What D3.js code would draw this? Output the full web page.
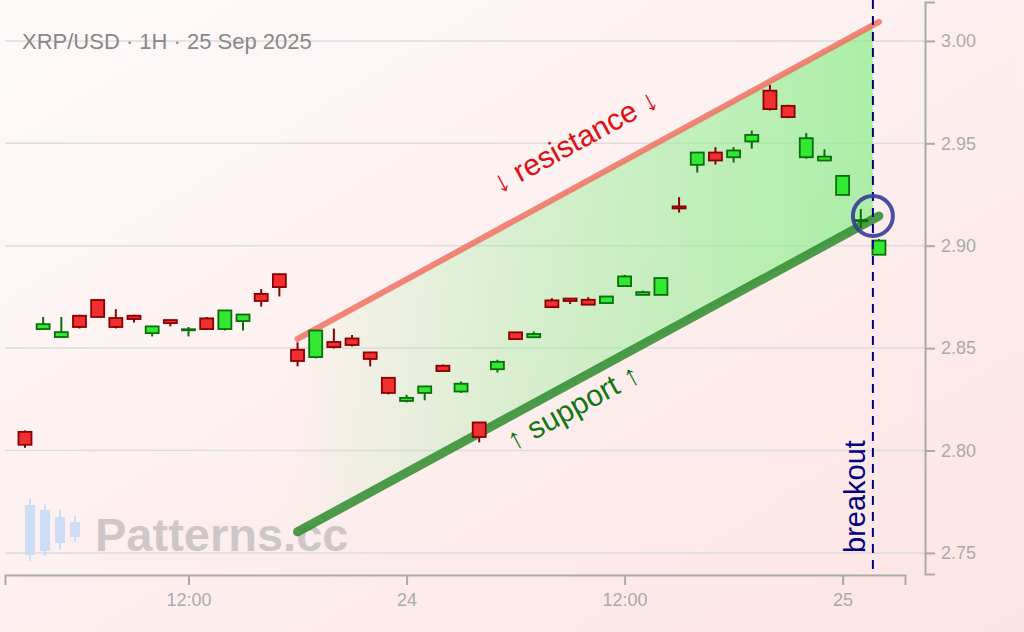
<!DOCTYPE html>
<html>
<head>
<meta charset="utf-8">
<script src="https://cdn.jsdelivr.net/npm/d3@7.9.0/dist/d3.min.js"></script>
<style>
  body { margin: 0; }
  svg { display: block; font-family: "Liberation Sans", Arial, sans-serif; }
</style>
</head>
<body>
<svg id="chart" width="1024" height="632"></svg>
<script>
// hourly candles from 23 Sep 03:00
const start = new Date(2025, 8, 23, 3);
const opens  = [2.8091,2.8593,2.8554,2.8658,2.8735,2.8647,2.8658,2.8573,2.8637,2.8590,2.8645,2.8593,2.8632,2.8765,2.8861,2.8492,2.8456,2.8530,2.8547,2.8479,2.8355,2.8242,2.8281,2.8414,2.8288,2.8137,2.8397,2.8577,2.8553,2.8733,2.8742,2.8736,2.8720,2.8803,2.8760,2.8760,2.9192,2.9395,2.9455,2.9432,2.9509,2.9757,2.9683,2.9432,2.9416,2.9248,2.9120,2.8956];
const closes = [2.8028,2.8617,2.8578,2.8603,2.8652,2.8603,2.8642,2.8606,2.8622,2.8592,2.8593,2.8684,2.8664,2.8730,2.8798,2.8437,2.8586,2.8505,2.8515,2.8447,2.8281,2.8257,2.8313,2.8388,2.8326,2.8066,2.8433,2.8544,2.8569,2.8700,2.8730,2.8712,2.8752,2.8850,2.8773,2.8842,2.9182,2.9455,2.9416,2.9465,2.9541,2.9667,2.9628,2.9525,2.9435,2.9341,2.9125,2.9025];
const highs  = [2.8098,2.8652,2.8652,2.8663,2.8740,2.8690,2.8663,2.8606,2.8637,2.8603,2.8652,2.8684,2.8664,2.8788,2.8864,2.8528,2.8586,2.8595,2.8564,2.8479,2.8359,2.8272,2.8313,2.8420,2.8337,2.8137,2.8443,2.8577,2.8581,2.8744,2.8742,2.8749,2.8752,2.8858,2.8781,2.8845,2.9237,2.9455,2.9481,2.9481,2.9562,2.9785,2.9688,2.9550,2.9471,2.9346,2.9179,2.9032];
const lows   = [2.8013,2.8593,2.8554,2.8596,2.8652,2.8596,2.8625,2.8557,2.8606,2.8557,2.8593,2.8586,2.8586,2.8703,2.8752,2.8411,2.8450,2.8498,2.8508,2.8411,2.8274,2.8235,2.8245,2.8388,2.8281,2.8040,2.8381,2.8544,2.8549,2.8700,2.8715,2.8712,2.8720,2.8803,2.8760,2.8760,2.9162,2.9357,2.9396,2.9406,2.9474,2.9660,2.9623,2.9425,2.9416,2.9248,2.9086,2.8956];

const resistance = [[new Date(2025, 8, 23, 18), 2.8545], [new Date(2025, 8, 25, 2), 3.0093]];
const support    = [[new Date(2025, 8, 23, 18), 2.7603], [new Date(2025, 8, 25, 2), 2.9145]];
const breakoutTime = new Date(2025, 8, 25, 1, 40);

const priceTicks = [2.75, 2.80, 2.85, 2.90, 2.95, 3.00];
const timeTicks = [new Date(2025, 8, 23, 12), new Date(2025, 8, 24), new Date(2025, 8, 24, 12), new Date(2025, 8, 25)];
const timeLabels = ['12:00', '24', '12:00', '25'];

const hour = i => new Date(start.getTime() + i * 3600e3);
const candles = opens.map((o, i) => ({ t: hour(i), o, c: closes[i], h: highs[i], l: lows[i] }));

const svg = d3.select('#chart');
const x = d3.scaleTime().domain([new Date(2025, 8, 23, 1, 54), new Date(2025, 8, 25, 3, 26)]).range([5, 905]);
const y = d3.scaleLinear().domain([2.7397, 3.0190]).range([574, 2]);

const defs = svg.append('defs');
let bg = defs.append('linearGradient').attr('id', 'bg').attr('x1', 0).attr('y1', 0).attr('x2', 1).attr('y2', 1);
bg.append('stop').attr('offset', 0).attr('stop-color', '#fefafa');
bg.append('stop').attr('offset', 1).attr('stop-color', '#fde4e4');
let fillG = defs.append('linearGradient').attr('id', 'chan').attr('x1', 0).attr('x2', 1).attr('y1', 0).attr('y2', 0);
fillG.append('stop').attr('offset', 0).attr('stop-color', '#90ee90').attr('stop-opacity', 0.0);
fillG.append('stop').attr('offset', 0.4).attr('stop-color', '#90ee90').attr('stop-opacity', 0.35);
fillG.append('stop').attr('offset', 1).attr('stop-color', '#90ee90').attr('stop-opacity', 0.75);

svg.append('rect').attr('width', 1024).attr('height', 632).attr('fill', 'url(#bg)');

// grid
svg.append('g').selectAll('line').data(priceTicks).join('line')
  .attr('x1', 5).attr('x2', 925).attr('y1', d => y(d)).attr('y2', d => y(d))
  .attr('stroke', '#ddd').attr('stroke-width', 1.5);

// watermark
const wm = svg.append('g').attr('opacity', 0.9);
[[30, 498, 561, 505, 555], [45, 504, 556, 510, 551], [60, 510, 550, 517, 543], [75, 516, 542, 522, 537]].forEach(([cx, hi, lo, bt, bb]) => {
  wm.append('line').attr('x1', cx).attr('x2', cx).attr('y1', hi).attr('y2', lo).attr('stroke', '#c8dcf6').attr('stroke-width', 2);
  wm.append('rect').attr('x', cx - 5).attr('y', bt).attr('width', 10).attr('height', bb - bt).attr('fill', '#c8dcf6');
});
wm.append('text').attr('x', 95).attr('y', 551).attr('font-size', 47).attr('font-weight', 'bold')
  .attr('fill', '#cbc3c3').text('Patterns.cc');

// channel fill
const r0 = resistance[0], r1 = resistance[1], s0 = support[0], s1 = support[1];
const lerp = (a, b, t) => a[1] + (b[1] - a[1]) * (t - a[0]) / (b[0] - a[0]);
const leftT = new Date(2025, 8, 23, 17, 33);
svg.append('path')
  .attr('d', d3.line()([[x(leftT), y(lerp(r0, r1, leftT))], [x(breakoutTime), y(lerp(r0, r1, breakoutTime))],
    [x(breakoutTime), y(lerp(s0, s1, breakoutTime))], [x(leftT), y(lerp(s0, s1, leftT))]]))
  .attr('fill', 'url(#chan)');

// lines
const ln = d3.line().x(d => x(d[0])).y(d => y(d[1]));
svg.append('path').attr('d', ln(resistance)).attr('stroke', '#f06a5a').attr('stroke-opacity', 0.8)
  .attr('stroke-width', 6).attr('stroke-linecap', 'round').attr('fill', 'none');
svg.append('path').attr('d', ln(support)).attr('stroke', '#2e8b2e').attr('stroke-opacity', 0.85)
  .attr('stroke-width', 9).attr('stroke-linecap', 'round').attr('fill', 'none');

// candles
const cw = 13;
const cg = svg.append('g').selectAll('g').data(candles).join('g');
cg.append('line').attr('x1', d => x(d.t)).attr('x2', d => x(d.t))
  .attr('y1', d => y(d.h)).attr('y2', d => y(d.l))
  .attr('stroke', d => d.c >= d.o ? '#0a6e0a' : '#8b0000').attr('stroke-width', 2);
cg.append('rect').attr('x', d => x(d.t) - cw / 2).attr('width', cw)
  .attr('y', d => y(Math.max(d.o, d.c)))
  .attr('height', d => Math.max(1, Math.abs(y(d.o) - y(d.c))))
  .attr('fill', d => d.c >= d.o ? '#33e833' : '#f03030')
  .attr('stroke', d => d.c >= d.o ? '#0a6e0a' : '#8b0000').attr('stroke-width', 1.8);

// labels
const ang = Math.atan2(y(r1[1]) - y(r0[1]), x(r1[0]) - x(r0[0])) * 180 / Math.PI;
svg.append('text').attr('transform', `translate(580,150) rotate(${ang})`).attr('text-anchor', 'middle')
  .attr('font-size', 30).attr('fill', '#e01010').text('↓ resistance ↓');
svg.append('text').attr('transform', `translate(578,416) rotate(${ang})`).attr('text-anchor', 'middle')
  .attr('font-size', 30).attr('fill', '#117711').text('↑ support ↑');

// breakout
svg.append('line').attr('x1', x(breakoutTime)).attr('x2', x(breakoutTime)).attr('y1', 0).attr('y2', 570)
  .attr('stroke', '#000080').attr('stroke-width', 2).attr('stroke-dasharray', '9,7');
svg.append('text').attr('transform', `translate(${x(breakoutTime) - 8},553) rotate(-90)`)
  .attr('font-size', 29).attr('fill', '#000080').text('breakout');
svg.append('circle').attr('cx', x(breakoutTime)).attr('cy', y(2.9145)).attr('r', 20)
  .attr('fill', 'none').attr('stroke', '#3a3a9a').attr('stroke-opacity', 0.9).attr('stroke-width', 4);

// axes
const xAxis = svg.append('g').attr('transform', 'translate(0,575)')
  .call(d3.axisBottom(x).tickValues(timeTicks).tickFormat((d, i) => timeLabels[i]).tickSizeOuter(10).tickSize(10).tickPadding(8));
const yAxis = svg.append('g').attr('transform', 'translate(925,0)')
  .call(d3.axisRight(y).tickValues(priceTicks).tickFormat(d3.format('.2f')).tickSizeOuter(10).tickSize(10).tickPadding(6));
[xAxis, yAxis].forEach(a => {
  a.selectAll('path, line').attr('stroke', '#aaa').attr('stroke-width', 2);
  a.selectAll('text').attr('fill', '#aaa').attr('font-size', 18).attr('font-family', 'Liberation Sans, Arial, sans-serif');
});

svg.append('text').attr('x', 22).attr('y', 49).attr('font-size', 22).attr('fill', '#888')
  .text('XRP/USD · 1H · 25 Sep 2025');
</script>
</body>
</html>
